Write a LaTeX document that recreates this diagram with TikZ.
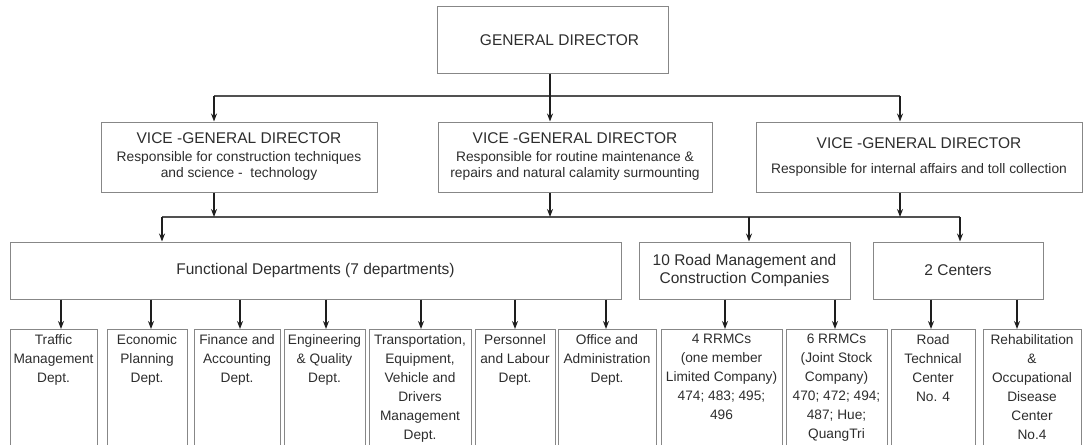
\documentclass[tikz,border=0pt]{standalone}
\usepackage{fontspec}
\setmainfont{Liberation Sans}
\usetikzlibrary{arrows.meta}
\definecolor{boxline}{RGB}{135,135,135}
\definecolor{txt}{RGB}{45,45,45}
\definecolor{arrline}{RGB}{30,30,30}
\newcommand{\headtxt}[1]{{\fontsize{15.5}{17}\selectfont #1}}
\tikzset{
  box/.style={draw=boxline, line width=1pt, rectangle, inner sep=0pt, align=center, text=txt},
  big/.style={font=\fontsize{15.5}{18}\selectfont},
  vice/.style={box, minimum height=70pt, font=\fontsize{13.8}{16.5}\selectfont},
  deptbox/.style={draw=boxline, line width=1pt, rectangle, inner sep=0pt, anchor=north},
  depttext/.style={anchor=north, inner sep=0pt, align=center, text=txt, font=\fontsize{13.7}{19}\selectfont},
  arr/.style={draw=arrline, line width=1.3pt, -{Stealth[length=8pt,width=6pt]}},
  bus/.style={draw=boxline!60!black, line width=1.2pt},
}
\begin{document}
\begin{tikzpicture}[x=1pt,y=-1pt]
\useasboundingbox (0,0) rectangle (1083,444);
\clip (0,0) rectangle (1083,444);

% top level
\node[box, big, minimum width=231pt, minimum height=66pt] (gd) at (552.5,40) {\hspace*{14pt}GENERAL DIRECTOR};

% vice directors
\node[vice, minimum width=276pt] (v1) at (239,157)
  {\headtxt{VICE -GENERAL DIRECTOR}\\[1pt]
   Responsible for construction techniques\\
   and science -\ \ technology};
\node[vice, minimum width=274pt] (v2) at (575,157)
  {\headtxt{VICE -GENERAL DIRECTOR}\\[1pt]
   Responsible for routine maintenance \&\\
   repairs and natural calamity surmounting};
\node[vice, minimum width=326pt] (v3) at (919,157)
  {\headtxt{VICE -GENERAL DIRECTOR}\\[9pt]
   Responsible for internal affairs and toll collection};

% groups
\node[box, big, minimum width=611pt, minimum height=57pt] (fd) at (315.5,270.5) {Functional Departments (7 departments)};
\node[box, big, minimum width=211pt, minimum height=57pt] (rmc) at (744.5,270.5) {10 Road Management and\\Construction Companies};
\node[box, big, minimum width=170pt, minimum height=57pt] (cen) at (958,270.5) {2 Centers};

% units
\node[deptbox, minimum width=87pt,  minimum height=131pt] (d1)  at (53.5,329) {};
\node[deptbox, minimum width=80pt,  minimum height=131pt] (d2)  at (147,329) {};
\node[deptbox, minimum width=86pt,  minimum height=131pt] (d3)  at (237,329) {};
\node[deptbox, minimum width=81pt,  minimum height=131pt] (d4)  at (324.5,329) {};
\node[deptbox, minimum width=102pt, minimum height=131pt] (d5)  at (420,329) {};
\node[deptbox, minimum width=80pt,  minimum height=131pt] (d6)  at (515,329) {};
\node[deptbox, minimum width=98pt,  minimum height=131pt] (d7)  at (607,329) {};
\node[deptbox, minimum width=121pt, minimum height=131pt] (d8)  at (721.5,329) {};
\node[deptbox, minimum width=101pt, minimum height=131pt] (d9)  at (836.5,329) {};
\node[deptbox, minimum width=84pt,  minimum height=131pt] (d10) at (933,329) {};
\node[deptbox, minimum width=98pt,  minimum height=131pt] (d11) at (1032,329) {};

\node[depttext] (t1)  at ([yshift=-5pt]d1.north)  {Traffic\\Management\\Dept.};
\node[depttext] (t2)  at ([yshift=-5pt]d2.north)  {Economic\\Planning\\Dept.};
\node[depttext] (t3)  at ([yshift=-5pt]d3.north)  {Finance and\\Accounting\\Dept.};
\node[depttext] (t4)  at ([yshift=-5pt]d4.north)  {Engineering\\\& Quality\\Dept.};
\node[depttext] (t5)  at ([yshift=-5pt]d5.north)  {Transportation,\\Equipment,\\Vehicle and\\Drivers\\Management\\Dept.};
\node[depttext] (t6)  at ([yshift=-5pt]d6.north)  {Personnel\\and Labour\\Dept.};
\node[depttext] (t7)  at ([yshift=-5pt]d7.north)  {Office and\\Administration\\Dept.};
\node[depttext] (t8)  at ([yshift=-5pt]d8.north)  {4 RRMCs\\(one member\\Limited Company)\\474; 483; 495;\\496};
\node[depttext] (t9)  at ([yshift=-5pt]d9.north)  {6 RRMCs\\(Joint Stock\\Company)\\470; 472; 494;\\487; Hue;\\QuangTri};
\node[depttext] (t10) at ([yshift=-5pt]d10.north) {Road\\Technical\\Center\\No. 4};
\node[depttext] (t11) at ([yshift=-5pt]d11.north) {Rehabilitation\\\&\\Occupational\\Disease\\Center\\No.4};

% director to vice directors
\coordinate (ba) at (214,96);
\coordinate (bb) at (550,96);
\coordinate (bc) at (900,96);
\draw[bus] (ba) -- (bc);
\draw[arr] (gd.south -| bb) -- (bb |- v2.north);
\draw[arr] (ba) -- (ba |- v1.north);
\draw[arr] (bc) -- (bc |- v3.north);

% vice directors to groups
\coordinate (ca) at (214,217);
\coordinate (cb) at (550,217);
\coordinate (cc) at (900,217);
\coordinate (cf) at (162,217);
\coordinate (cr) at (749,217);
\coordinate (cg) at (960,217);
\draw[bus] (cf) -- (cg);
\draw[arr] (v1.south -| ca) -- (ca);
\draw[arr] (v2.south -| cb) -- (cb);
\draw[arr] (v3.south -| cc) -- (cc);
\draw[arr] (cf) -- (cf |- fd.north);
\draw[arr] (cr) -- (cr |- rmc.north);
\draw[arr] (cg) -- (cg |- cen.north);

% groups to units
\foreach \d/\x in {d1/61, d2/151, d3/240, d4/326, d5/421, d6/515, d7/606}
  \draw[arr] (fd.south -| \x,0) -- (\x,0 |- \d.north);
\foreach \d/\x in {d8/725, d9/835}
  \draw[arr] (rmc.south -| \x,0) -- (\x,0 |- \d.north);
\foreach \d/\x in {d10/931, d11/1017}
  \draw[arr] (cen.south -| \x,0) -- (\x,0 |- \d.north);
\end{tikzpicture}
\end{document}
